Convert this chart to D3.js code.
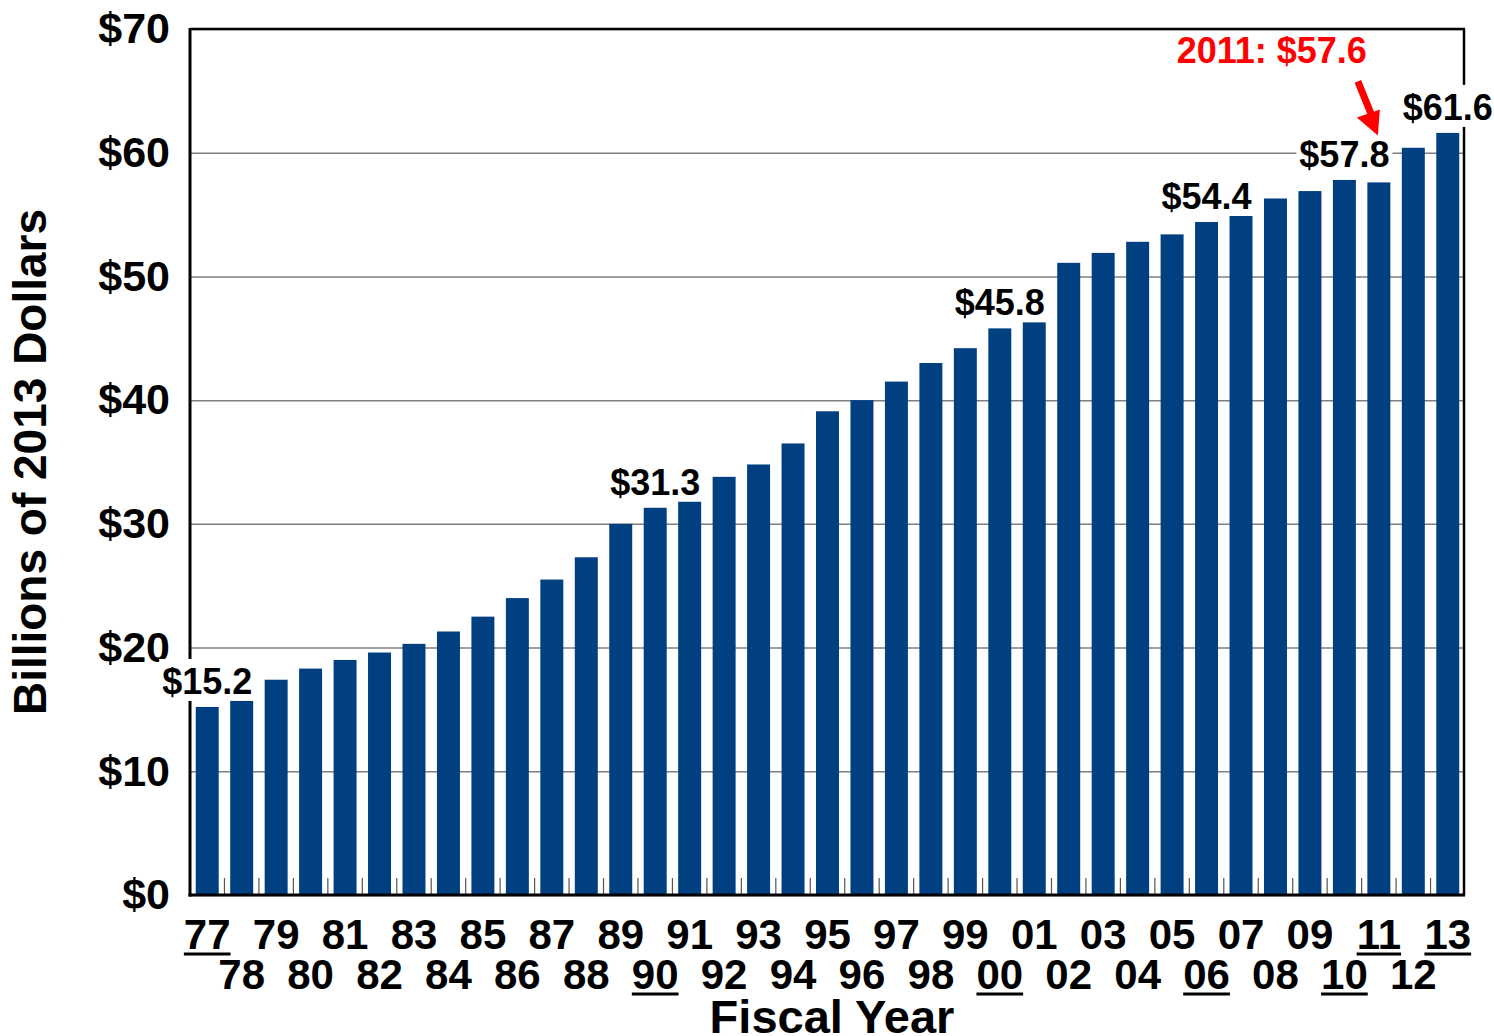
<!DOCTYPE html>
<html>
<head>
<meta charset="utf-8">
<script src="https://cdn.jsdelivr.net/npm/d3@7"></script>
<style>
  body { margin: 0; background: #fff; }
  text { font-family: "Liberation Sans", Arial, sans-serif; font-weight: bold; }
</style>
</head>
<body>
<svg id="drawing_region"></svg>
<script>
// fiscal years shown on the axis
const years = ['77','78','79','80','81','82','83','84','85','86','87','88','89','90','91','92','93','94','95','96',
               '97','98','99','00','01','02','03','04','05','06','07','08','09','10','11','12','13'];
// billions of 2013 dollars
const values = [15.2,15.8,17.4,18.3,19.0,19.6,20.3,21.3,22.5,24.0,25.5,27.3,30.0,31.3,31.9,33.8,34.8,36.5,39.1,40.0,
                41.5,43.0,44.2,45.8,46.4,51.1,51.9,52.8,53.4,54.4,55.0,56.3,56.9,57.8,57.6,60.4,61.6];
const labelled = ['77','90','00','06','10','13'];
const underlined = ['77','90','00','06','10','11','13'];
const yTicks = [0,10,20,30,40,50,60,70];
const callout = { year: '11', value: 57.6, text: '2011: $57.6' };

const data = years.map((y, i) => ({ year: y, value: values[i] }));

const width = 1494, height = 1036;
const m = { left: 190, right: 1465, top: 29, bottom: 895 };

const svg = d3.select('#drawing_region')
    .attr('width', width)
    .attr('height', height);

const xscale = d3.scaleBand()
    .domain(years)
    .range([m.left, m.right])
    .paddingInner(1/3)
    .paddingOuter(1/6);

const yscale = d3.scaleLinear()
    .domain([0, 70])
    .range([m.bottom, m.top]);

// grid lines
svg.append('g')
    .attr('transform', `translate(${m.left},0)`)
    .call(d3.axisLeft(yscale).tickValues(yTicks).tickSize(-(m.right - m.left)).tickFormat(''))
    .call(g => g.select('.domain').remove())
    .selectAll('line')
    .attr('stroke', '#7f7f7f')
    .attr('stroke-width', 1.5);

// y tick labels
svg.append('g')
    .attr('transform', `translate(${m.left},0)`)
    .call(d3.axisLeft(yscale).tickValues(yTicks).tickSize(0).tickPadding(20).tickFormat(d => '$' + d))
    .call(g => g.select('.domain').remove())
    .selectAll('text')
    .attr('font-size', 43)
    .attr('fill', '#000');

// bars
svg.append('g').selectAll('rect')
    .data(data)
    .enter()
    .append('rect')
    .attr('x', d => xscale(d.year))
    .attr('y', d => yscale(d.value))
    .attr('width', xscale.bandwidth())
    .attr('height', d => yscale(0) - yscale(d.value))
    .attr('fill', '#003f80');

// small ticks between bars
const gap = xscale.step() - xscale.bandwidth();
svg.append('g').selectAll('line')
    .data(years.slice(1))
    .enter()
    .append('line')
    .attr('x1', d => xscale(d) - gap / 2)
    .attr('x2', d => xscale(d) - gap / 2)
    .attr('y1', m.bottom - 17)
    .attr('y2', m.bottom)
    .attr('stroke', '#555')
    .attr('stroke-width', 1.2);

// frame
svg.append('line').attr('x1', m.left).attr('x2', m.right).attr('y1', m.top).attr('y2', m.top)
    .attr('stroke', '#000').attr('stroke-width', 2.5);
svg.append('line').attr('x1', m.right - 1).attr('x2', m.right - 1).attr('y1', m.top).attr('y2', m.bottom)
    .attr('stroke', '#000').attr('stroke-width', 2.5);
svg.append('line').attr('x1', m.left).attr('x2', m.left).attr('y1', m.top - 1).attr('y2', m.bottom + 1.5)
    .attr('stroke', '#000').attr('stroke-width', 3);
svg.append('line').attr('x1', m.left - 1.5).attr('x2', m.right).attr('y1', m.bottom).attr('y2', m.bottom)
    .attr('stroke', '#000').attr('stroke-width', 3);

// x labels in two rows
const xlab = svg.append('g').selectAll('g')
    .data(years)
    .enter()
    .append('g')
    .attr('transform', (d, i) => `translate(${xscale(d) + xscale.bandwidth() / 2},${i % 2 === 0 ? 949 : 989})`);

xlab.append('text')
    .attr('text-anchor', 'middle')
    .attr('font-size', 42)
    .text(d => d);

xlab.filter(d => underlined.includes(d))
    .each(function() {
        const g = d3.select(this);
        const w = g.select('text').node().getComputedTextLength();
        g.append('line')
            .attr('x1', -w / 2).attr('x2', w / 2)
            .attr('y1', 5).attr('y2', 5)
            .attr('stroke', '#000')
            .attr('stroke-width', 3);
    });

// value labels with white boxes
const vlab = svg.append('g').selectAll('g')
    .data(data.filter(d => labelled.includes(d.year)))
    .enter()
    .append('g')
    .attr('transform', d => `translate(${xscale(d.year) + xscale.bandwidth() / 2},${yscale(d.value) - 13})`);

vlab.append('rect').attr('fill', '#fff');
vlab.append('text')
    .attr('text-anchor', 'middle')
    .attr('font-size', 36)
    .text(d => '$' + d.value.toFixed(1));
vlab.each(function() {
    const g = d3.select(this);
    const w = g.select('text').node().getComputedTextLength();
    g.select('rect')
        .attr('x', -w / 2 - 3).attr('width', w + 6)
        .attr('y', -35).attr('height', 42);
});

// red callout for 2011
const cx = xscale(callout.year) + xscale.bandwidth() / 2;
const tipY = yscale(callout.value) - 47;
svg.append('text')
    .attr('x', cx - 12)
    .attr('y', 63)
    .attr('text-anchor', 'end')
    .attr('font-size', 36)
    .attr('fill', '#ff0000')
    .text(callout.text);

svg.append('line')
    .attr('x1', cx - 21).attr('y1', tipY - 54)
    .attr('x2', cx - 8).attr('y2', tipY - 22)
    .attr('stroke', '#ff0000')
    .attr('stroke-width', 7);

svg.append('path')
    .attr('d', `M${cx - 1},${tipY} L${cx - 22},${tipY - 18} L${cx + 1},${tipY - 26} Z`)
    .attr('fill', '#ff0000');

// axis titles
svg.append('text')
    .attr('transform', `translate(46,${(m.top + m.bottom) / 2}) rotate(-90)`)
    .attr('text-anchor', 'middle')
    .attr('font-size', 46)
    .text('Billions of 2013 Dollars');

svg.append('text')
    .attr('x', 832)
    .attr('y', 1033)
    .attr('text-anchor', 'middle')
    .attr('font-size', 47)
    .text('Fiscal Year');
</script>
</body>
</html>
